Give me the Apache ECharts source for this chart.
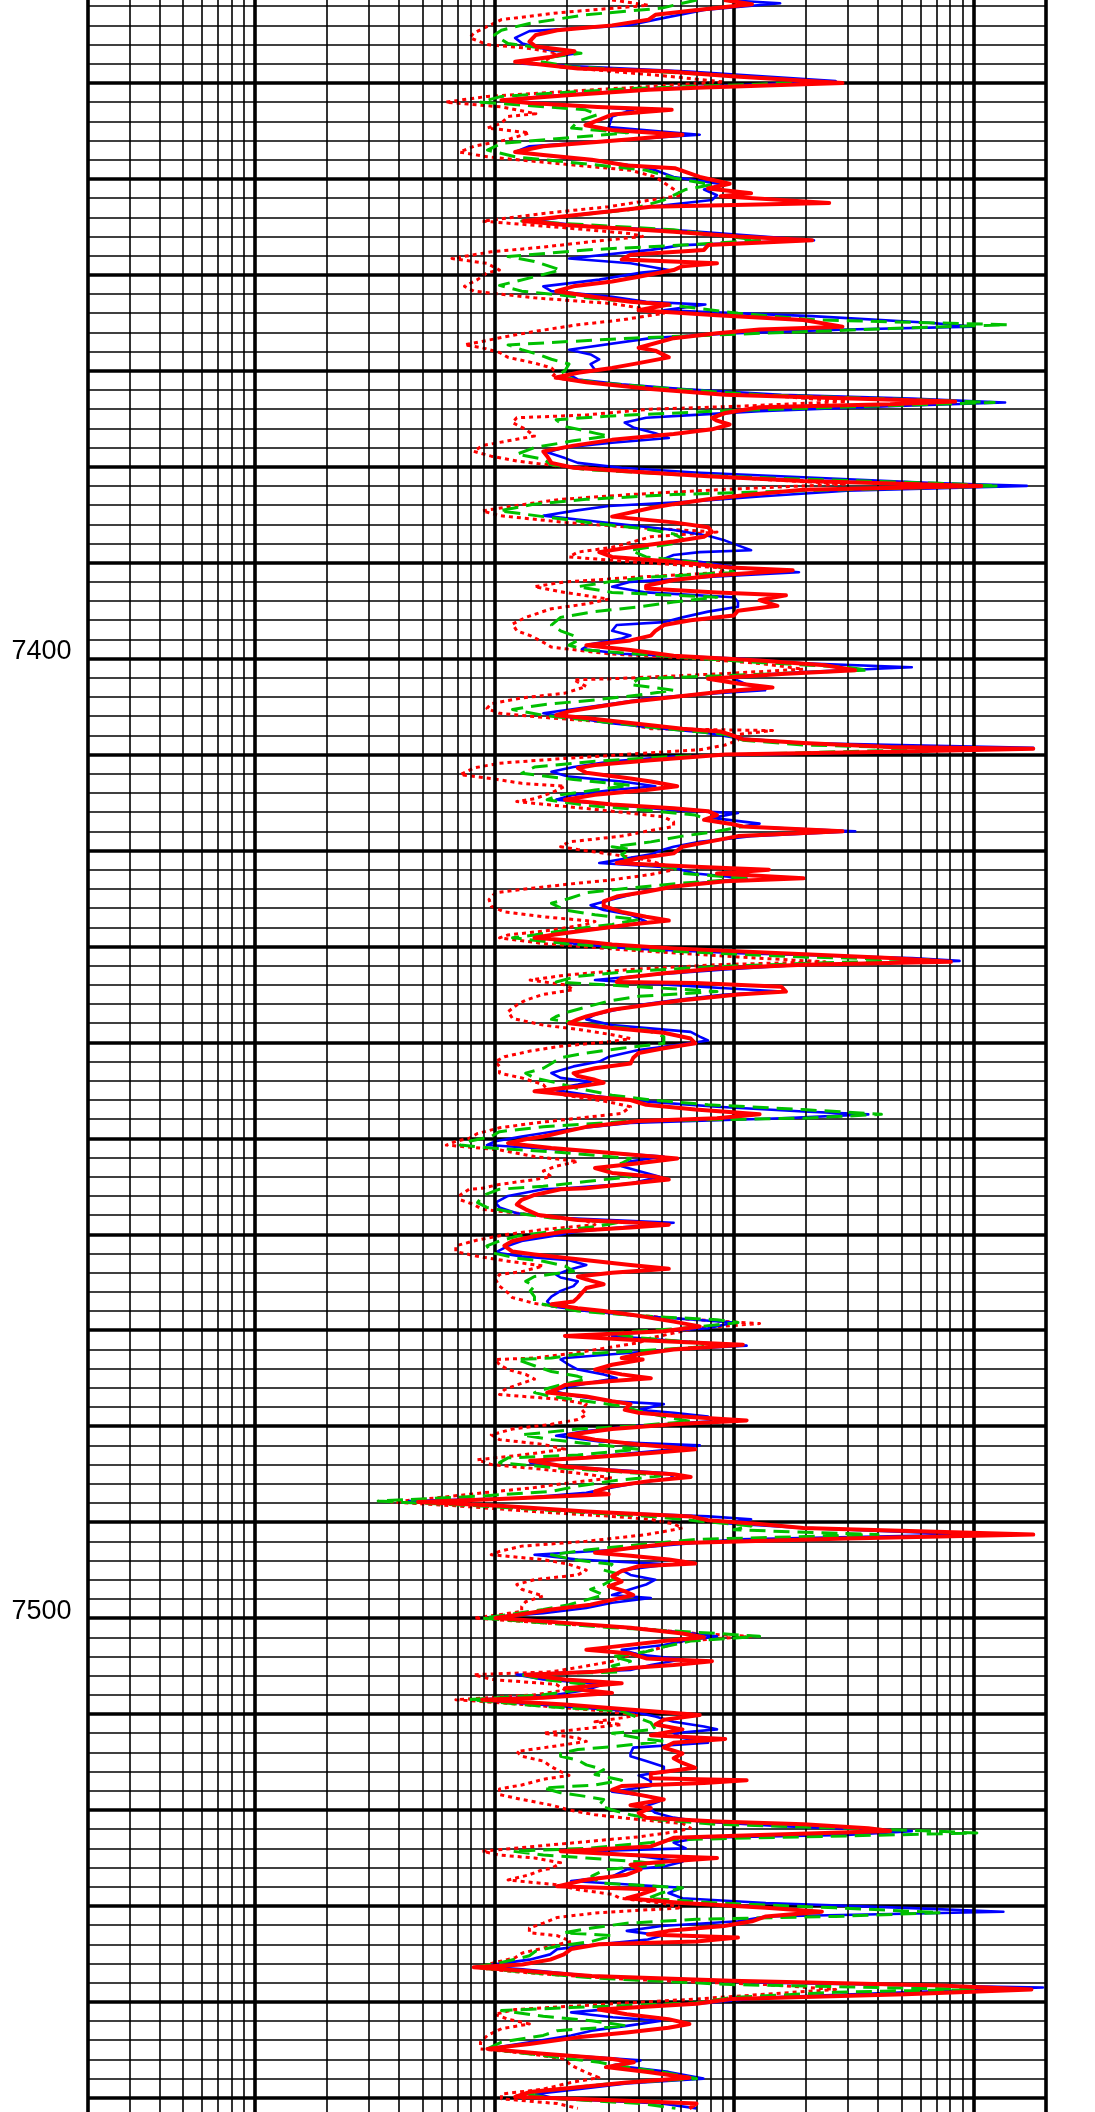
<!DOCTYPE html>
<html><head><meta charset="utf-8">
<script src="https://cdn.jsdelivr.net/npm/echarts@6/dist/echarts.min.js"></script>
<style>html,body{margin:0;padding:0;background:#fff;overflow:hidden;width:1095px;height:2112px}#chart{position:absolute;left:0;top:-13px;width:1095px;height:2130px}</style>
</head><body><div id="chart"></div>
<script>
// Depth tick labels (ft) and x grid lines (resistivity, ohm-m, log scale)
const depthLabels = [7400, 7500];
const decadeLines = [0.2, 1, 10, 100, 1000, 2000];
const minorLines = [0.3,0.4,0.5,0.6,0.7,0.8,0.9, 2,3,4,5,6,7,8,9, 20,30,40,50,60,70,80,90, 200,300,400,500,600,700,800,900];

// Each curve: [depth, resistivity]
const deepRes = [
[7331.35,91],[7331.8,119],[7332.4,70],[7332.9,47],[7333.4,44],[7334.0,31],[7334.5,18.3],[7335.0,14.9],[7335.7,14],[7336.2,14.9],[7336.7,21.6],[7337.3,17.1],[7337.8,12.2],[7338.1,16],[7338.5,22.3],[7338.8,53],[7339.3,98],[7340.0,284],[7340.5,70],[7340.7,44],[7341.3,19.5],[7341.8,10.7],[7342.1,14],[7342.5,27],[7342.8,55],[7343.3,31],[7343.9,27],[7344.4,24],[7344.9,31],[7345.4,61],[7345.9,36],[7346.6,16],[7347.2,12.2],[7347.5,16],[7348.0,25.5],[7348.6,36],[7348.9,57],
[7349.1,56],[7349.8,72],[7350.5,96],[7351.0,78],[7351.5,118],[7351.8,88],[7352.5,250],[7352.9,45],[7353.4,30],[7353.9,19.7],[7354.4,13.2],[7354.8,19.7],[7355.1,30],[7355.5,56],[7356.0,104],[7356.4,212],[7356.9,78],[7357.4,75],[7357.9,37],[7358.4,34],[7358.8,85],[7359.1,61],[7359.5,56],[7360.2,40],[7360.7,31],[7361.2,21.4],[7361.7,18.1],[7362.3,26.3],[7362.8,37],[7363.1,53.5],[7363.7,40],[7364.2,85],[7364.7,195],[7365.4,284],[7365.7,128],[7366.1,85],[7366.6,56],
[7367.6,40],[7367.9,47],[7368.6,53.5],[7369.2,40],[7369.7,31],[7370.2,22.3],[7370.7,18.1],[7371.2,24.2],[7371.9,45],[7372.5,92],[7372.8,240],[7373.2,839],[7373.5,449],[7373.8,128],[7374.4,92],[7374.9,81],[7375.2,85],[7375.6,96],[7376.1,81],[7376.6,56],[7377.2,31],[7377.8,21.4],[7378.4,16],[7378.9,16.6],[7379.6,17.3],[7380.1,21.4],[7380.5,37],[7381.0,78],[7381.5,195],[7382.0,1078],[7382.4,195],[7382.9,118],[7383.4,78],[7383.9,56],[7384.3,45],
[7385.2,31],[7385.8,56],[7386.3,78],[7386.8,81],[7387.3,75],[7387.8,56],[7388.4,37],[7388.9,27.4],[7389.4,31],[7389.9,56],[7390.5,96],[7390.8,176],[7391.3,85],[7391.8,56],[7392.4,43],[7392.7,43],[7393.1,85],[7393.4,165],[7393.9,128],[7394.5,152],[7395.0,104],[7395.5,100],[7396.0,66],[7396.5,51],[7397.1,47],[7397.6,45],[7398.1,37],[7398.6,24.2],[7399.1,37],[7399.7,56],[7400.2,128],[7400.7,240],[7401.2,321],[7401.6,158],[7402.1,78],
[7402.6,104],[7403.0,145],[7403.4,92],[7404.0,56],[7404.5,37],[7405.0,27.4],[7405.5,20.5],[7405.9,18.1],[7406.2,24.2],[7406.7,37],[7407.3,61],[7407.6,88],[7407.9,96],[7408.4,109],[7408.8,195],[7409.2,449],[7409.4,1778],[7409.7,449],[7410.0,92],[7410.6,45],[7411.1,26.3],[7411.4,22.3],[7411.9,24.2],[7412.5,37],[7412.8,45],[7413.3,58],[7413.7,43],[7414.2,26.3],[7414.7,19.7],[7415.2,31],[7415.6,56],[7415.9,78],[7416.3,85],[7416.8,75],[7417.2,96],[7417.5,109],[7418.0,284],[7418.5,104],[7419.1,78],[7419.6,61],
[7420.3,56],[7420.8,40],[7421.3,32.4],[7421.7,69],[7422.0,140],[7422.4,85],[7422.9,195],[7423.2,92],[7423.75,56],[7424.3,43],[7424.8,32.4],[7425.3,28.6],[7425.8,28.6],[7426.4,34],[7426.9,43],[7427.3,53.5],[7427.7,37],[7428.3,24.2],[7428.8,17.3],[7429.1,14.7],[7429.5,24.2],[7429.8,31],[7430.2,56],[7430.7,158],[7431.2,449],[7431.6,805],[7431.9,195],[7432.3,85],[7432.8,51],[7433.3,34],[7433.7,32.4],[7433.8,69],[7434.2,158],[7434.7,165],[7435.0,104],[7435.6,61],[7436.1,43],[7436.6,31],[7437.3,24.2],
[7437.6,22.3],[7438.0,20.5],[7438.5,31],[7439.0,51],[7439.6,66],[7440.1,69],[7440.6,51],[7441.1,40],[7441.6,38],[7442.2,37],[7442.7,26.3],[7443.2,21.4],[7443.5,22.3],[7443.9,26.3],[7444.2,28.6],[7444.6,22.3],[7445.1,14.7],[7445.5,21.4],[7446.0,37],[7446.5,43],[7447.0,69],[7447.5,128],[7447.9,85],[7448.2,40],[7448.8,24.2],[7449.3,19.7],[7449.8,16],[7450.1,13.5],[7450.5,11.4],[7451.0,17.3],[7451.5,30],[7452.1,58],[7452.6,40],[7453.1,26.3],[7453.6,31],[7454.0,47],[7454.3,53.5],[7454.7,37],[7455.2,24.2],
[7455.3,18.9],[7455.9,14.7],[7456.4,13],[7456.9,12.4],[7457.4,13.5],[7458.0,15.3],[7458.5,22.3],[7458.8,40],[7459.0,53.5],[7459.3,37],[7459.7,19.7],[7460.2,14.7],[7460.7,11.9],[7461.2,11],[7461.8,11.9],[7462.1,14.7],[7462.6,22.3],[7463.2,37],[7463.6,53.5],[7464.0,31],[7464.4,22.3],[7464.7,24.2],[7465.2,28.6],[7465.6,24.2],[7466.1,23.2],[7466.6,22.3],[7467.0,21.4],[7467.3,17.3],[7467.7,22.3],[7468.0,28.6],[7468.5,40],[7469.1,56],[7469.6,72],[7470.1,51],[7470.6,19.7],[7471.0,37],[7471.5,109],[7472.0,56],[7472.5,40],[7472.9,34],
[7473.05,41.6],[7473.6,31],[7474.1,26.3],[7474.6,34],[7475.0,45],[7475.3,31],[7475.7,19.7],[7476.2,18.1],[7476.5,16.6],[7476.9,24.2],[7477.4,31],[7477.7,37],[7478.3,35],[7478.6,40],[7479.0,61],[7479.4,113],[7479.8,56],[7480.3,31],[7480.9,20.5],[7481.4,26.3],[7481.9,40],[7482.4,69],[7482.8,45],[7483.3,24.2],[7483.6,14.1],[7484.2,19.7],[7484.7,34],[7485.0,56],[7485.3,66],[7485.7,45],[7486.25,31],[7486.8,26.3],[7487.1,30],[7487.6,10.5],[7487.9,4.8],[7488.3,10.5],[7488.9,24.2],[7489.4,66],[7489.8,78],[7490.2,128],[7490.6,195],
[7491.3,1778],[7491.7,296],[7492.2,56],[7492.7,37],[7493.2,26.3],[7493.5,37],[7493.9,53.5],[7494.3,69],[7494.6,40],[7495.1,34],[7495.65,31],[7496.2,34],[7496.7,30],[7497.2,35],[7497.6,38],[7498.1,31],[7498.6,25.2],[7499.1,17.3],[7499.6,13],[7500.0,10.1],[7500.5,19.7],[7501.0,37],[7501.6,61],[7502.0,75],[7502.4,51],[7503.0,31],[7503.3,24.2],[7503.7,37],[7504.2,43],[7504.5,81],[7504.9,56],[7505.2,37],[7505.6,26.3],[7505.9,13.5],[7506.4,19.7],[7506.8,34],[7507.3,19.7],[7507.8,31],[7508.3,16],
[7508.5,8.9],[7509.0,19.7],[7509.6,40],[7510.1,72],[7510.6,51],[7511.1,47],[7511.6,61],[7512.2,45],[7512.6,92],[7513.0,56],[7513.5,51],[7514.1,61],[7514.6,56],[7515.1,61],[7515.6,69],[7516.2,45],[7516.7,45],[7516.9,113],[7517.2,75],[7517.5,34],[7517.9,31],[7518.4,40],[7518.9,51],[7519.5,37],[7519.8,45],[7520.3,40],[7520.8,43],[7521.2,85],[7521.5,195],[7521.9,364],[7522.2,449],[7522.6,128],[7522.9,56],[7523.3,51],[7523.8,45],[7524.3,18.9],[7524.7,37],[7525.0,85],[7525.4,51],[7525.7,37],[7526.1,40],
[7526.2,40.8],[7526.75,35.7],[7527.3,23.9],[7527.96,18.3],[7528.3,46.7],[7528.8,40.8],[7529.2,35.7],[7529.7,61],[7530.2,136],[7530.6,233],[7531.1,136],[7531.6,119],[7532.1,91],[7532.6,53.3],[7532.97,43.7],[7533.3,104],[7533.7,69.8],[7534.0,27.3],[7534.5,20.9],[7535.05,19.5],[7535.6,17.1],[7536.1,13.1],[7536.4,8.2],[7536.8,14],[7537.3,25.5],[7537.8,97.6],[7538.3,730],[7538.7,1747],[7539.2,520],[7539.7,97.6],[7540.2,69.8],[7540.8,27.3],[7541.3,35.7],[7541.8,53.3],[7542.3,65.2],[7542.7,53.3],[7543.2,35.7],[7543.7,22.3],[7544.4,14],[7544.9,9.35],[7545.4,16],[7545.95,31.2],[7546.3,38.2],[7546.8,29.2],[7547.3,43.7],[7547.9,65.2],[7548.4,35.7],[7548.9,22.3],[7549.4,14],[7549.9,12.2],[7550.3,35.7],[7550.6,69.8],[7551.1,65.2]
];

const medRes = [
[7331.35,91],[7331.7,156],[7332.4,75],[7333.4,47],[7334.0,36],[7334.6,14],[7335.3,12.2],[7335.9,13.1],[7336.6,17.1],[7336.9,22.3],[7337.6,14],[7338.0,13.1],[7338.8,65],[7339.8,266],[7340.6,47],[7341.4,16],[7341.8,10.7],[7342.5,27],[7342.8,38],[7343.5,31],[7344.6,30],[7345.4,72],[7345.9,36],[7346.6,14],[7347.2,12.2],[7348.0,24],[7348.7,41],
[7349.1,47],[7349.8,56],[7350.6,92],[7351.1,75],[7351.7,85],[7352.2,81],[7352.9,45],[7353.6,24.2],[7354.4,14.7],[7355.0,26.3],[7355.4,63],[7356.4,216],[7356.9,61],[7357.4,45],[7358.3,20.5],[7358.8,37],[7359.5,53.5],[7359.8,40],[7360.5,27.4],[7361.2,16],[7361.7,17.3],[7362.3,31],[7362.8,43],[7363.1,76],[7363.7,51],[7364.3,212],[7365.0,653],[7365.4,1000],[7365.7,296],[7366.1,96],[7366.6,45],
[7367.8,20.5],[7368.3,25.2],[7368.8,27.4],[7369.3,25.2],[7369.9,26.3],[7370.4,20.5],[7370.9,22.3],[7371.4,34],[7371.9,61],[7372.5,158],[7372.9,553],[7373.3,1356],[7373.7,449],[7374.2,128],[7374.6,69],[7374.9,43],[7375.4,35],[7375.9,38],[7376.5,47],[7377.0,53.5],[7377.5,31],[7378.0,19.7],[7378.5,16.6],[7379.1,19.7],[7379.6,22.3],[7380.1,34],[7380.6,69],[7381.1,195],[7381.7,681],[7382.0,1670],[7382.5,296],[7383.1,128],[7383.6,69],[7384.1,30],
[7384.6,21.4],[7385.1,16],[7385.6,24.2],[7386.1,37],[7386.6,56],[7387.2,78],[7387.7,92],[7388.2,104],[7388.7,118],[7388.9,72],[7389.2,56],[7389.6,51],[7389.9,72],[7390.5,104],[7391.0,187],[7391.5,78],[7392.0,37],[7392.5,31],[7393.1,43],[7393.6,100],[7394.1,104],[7394.6,104],[7395.1,78],[7395.7,61],[7396.2,51],[7396.5,32.4],[7397.1,31],[7397.6,37],[7397.9,34],[7398.5,25.2],[7399.0,23.2],[7399.5,34],[7400.0,104],[7400.5,195],[7400.9,553],[7401.4,195],[7401.9,96],
[7402.7,113],[7403.3,135],[7403.6,85],[7404.1,45],[7404.7,31],[7405.2,22.3],[7405.7,16],[7406.2,22.3],[7406.7,30],[7407.3,51],[7407.7,75],[7408.3,104],[7408.8,195],[7409.3,1778],[7409.7,449],[7410.2,56],[7410.7,31],[7411.3,21.4],[7411.8,17.3],[7412.3,20.5],[7412.8,34],[7413.3,47],[7413.7,31],[7414.2,21.4],[7414.7,18.1],[7415.2,30],[7415.8,56],[7416.1,104],[7416.6,81],[7417.2,128],[7417.5,109],[7418.0,321],[7418.5,118],[7419.1,72],[7419.6,56],
[7419.9,51],[7420.4,45],[7421.3,27.4],[7421.8,56],[7422.4,69],[7422.9,113],[7423.4,72],[7423.9,51],[7424.4,40],[7425.1,31],[7425.7,25.2],[7426.2,28.6],[7426.7,37],[7427.4,43],[7427.9,34],[7428.6,18.9],[7429.1,16],[7429.7,21.4],[7430.2,37],[7430.7,104],[7431.2,553],[7431.5,875],[7431.9,195],[7432.4,92],[7433.0,43],[7433.5,26.3],[7433.8,40],[7434.35,92],[7434.7,158],[7435.0,92],[7435.6,56],[7436.1,40],[7436.6,32.4],[7437.1,26.3],
[7437.6,24.2],[7438.2,31],[7438.9,66],[7439.4,72],[7439.8,78],[7440.2,61],[7440.8,40],[7441.5,30],[7442.0,27.4],[7442.5,21.4],[7443.2,17.3],[7443.7,18.9],[7444.1,25.2],[7444.4,22.3],[7444.9,17.3],[7445.6,26.3],[7446.2,45],[7446.7,85],[7447.2,195],[7447.5,364],[7447.9,158],[7448.4,37],[7449.1,19.7],[7449.8,13],[7450.3,10.1],[7450.7,9.3],[7451.0,14.7],[7451.5,30],[7451.9,51],[7452.4,37],[7452.9,34],[7453.4,40],[7454.0,49],[7454.7,37],[7455.2,19.7],
[7455.3,16],[7456.0,11.4],[7456.7,10.1],[7457.2,10.5],[7457.8,12.4],[7458.3,19.7],[7458.8,56],[7459.2,37],[7459.7,22.3],[7460.2,17.3],[7460.7,13],[7461.2,11.4],[7461.9,10.1],[7462.3,13],[7462.7,20.5],[7463.2,24.2],[7463.7,20.5],[7464.2,18.1],[7464.5,18.9],[7464.9,22.3],[7465.4,21.4],[7465.9,18.9],[7466.5,17.3],[7467.0,16.6],[7467.5,17.3],[7468.0,24.2],[7468.5,40],[7468.9,69],[7469.2,100],[7469.8,78],[7470.3,37],[7470.6,31],[7471.1,56],[7471.6,113],[7472.0,56],[7472.5,31],[7472.9,19.7],
[7473.05,18.9],[7473.6,20.5],[7474.1,22.3],[7474.6,28.6],[7475.0,32.4],[7475.3,27.4],[7475.8,21.4],[7476.3,17.3],[7476.9,22.3],[7477.4,31],[7477.7,51],[7478.3,40],[7478.6,56],[7479.0,78],[7479.5,81],[7480.0,37],[7480.5,24.2],[7481.0,18.1],[7481.6,27.4],[7482.0,72],[7482.4,56],[7483.0,31],[7483.5,18.1],[7483.8,14.1],[7484.3,22.3],[7484.9,53.5],[7485.4,56],[7485.9,40],[7486.4,31],[7486.95,24.2],[7487.5,13],[7487.8,4.4],[7488.3,10.5],[7488.9,22.3],[7489.4,78],[7489.7,118],[7490.1,92],[7490.6,195],
[7491.3,1034],[7491.8,104],[7492.35,56],[7492.9,31],[7493.4,14.7],[7493.9,22.3],[7494.4,53.5],[7495.0,34],[7495.5,37],[7496.0,47],[7496.5,43],[7497.0,37],[7497.6,31],[7497.9,45],[7498.4,31],[7498.95,24.2],[7499.5,16],[7499.9,9.7],[7500.3,16],[7500.9,31],[7501.4,56],[7501.9,85],[7502.4,61],[7502.8,51],[7503.3,34],[7503.8,40],[7504.3,61],[7504.9,45],[7505.4,37],[7505.9,12.4],[7506.4,16],[7506.9,28.6],[7507.5,24.2],[7508.2,16],
[7508.5,8.2],[7509.2,19.7],[7509.7,37],[7510.25,47],[7510.8,56],[7511.3,75],[7511.6,85],[7512.0,56],[7512.5,61],[7513.0,78],[7513.5,38],[7514.1,37],[7514.4,37],[7514.9,43],[7515.5,51],[7516.0,51],[7516.4,40],[7517.0,45],[7517.5,45],[7518.1,31],[7518.6,45],[7519.1,49],[7519.6,43],[7520.3,47],[7520.8,56],[7521.2,72],[7521.7,158],[7522.2,553],[7522.6,296],[7522.9,72],[7523.4,56],[7524.0,63],[7524.3,24.2],[7524.8,40],[7525.4,61],[7525.9,51],
[7526.2,35.7],[7526.9,31.2],[7527.4,20.9],[7528.1,61],[7528.65,53.3],[7529.2,61],[7529.7,136],[7530.2,520],[7530.6,1334],[7531.1,136],[7531.6,104],[7532.1,49.9],[7532.6,35.7],[7533.1,49.9],[7533.5,43.7],[7534.0,27.3],[7534.5,18.3],[7535.05,17.1],[7535.6,14],[7536.3,8.75],[7536.6,13.1],[7537.3,25.5],[7538.0,136],[7538.5,1950],[7539.0,520],[7539.55,136],[7540.1,79.8],[7540.6,35.7],[7541.1,20.9],[7541.6,31.2],[7541.97,49.9],[7542.5,35.7],[7543.0,25.5],[7543.5,20.9],[7544.2,14],[7544.9,9.35],[7545.4,16],[7546.1,40.8],[7546.6,31.2],[7547.3,53.3],[7548.0,74.6],[7548.5,35.7],[7549.1,22.3],[7549.6,14.9],[7550.1,18.3],[7550.6,49.9],[7551.1,69.8]
];

const shallowRes = [
[7331.35,70],[7332.2,50],[7332.9,24],[7333.8,14],[7334.5,10.7],[7335.0,10],[7335.9,11.4],[7336.9,23],[7337.6,14],[7338.3,21],[7339.3,104],[7339.9,233],[7340.6,36],[7341.4,10.7],[7342.0,8.75],[7342.8,24],[7343.3,27],[7344.0,22.3],[7344.7,21],[7345.2,36],[7346.3,10.7],[7347.0,9.35],[7347.7,12.2],[7348.5,25.5],
[7349.1,43],[7349.9,56],[7350.6,81],[7351.1,63],[7352.2,51],[7353.2,37],[7354.4,13],[7355.3,56],[7356.4,128],[7356.9,61],[7357.4,24.2],[7358.1,11.4],[7358.6,14.7],[7359.5,18.9],[7360.2,14.7],[7361.1,10.5],[7361.7,13],[7362.3,22.3],[7362.8,37],[7363.3,61],[7364.0,104],[7364.7,221],[7365.2,1384],[7365.6,449],[7366.1,128],[7366.6,37],
[7367.3,11.4],[7367.8,13],[7368.3,15.3],[7368.8,17.3],[7369.3,20.5],[7370.0,19.7],[7370.6,18.1],[7371.2,26.3],[7371.9,56],[7372.5,128],[7373.0,553],[7373.3,1222],[7373.7,364],[7374.2,85],[7374.7,31],[7375.1,18.1],[7375.8,19.7],[7376.5,26.3],[7376.8,30],[7377.3,21.4],[7378.0,14.7],[7378.7,12.4],[7379.2,16],[7379.8,17.3],[7380.3,24.2],[7380.8,56],[7381.3,195],[7381.7,681],[7382.0,1274],[7382.5,195],[7382.9,56],[7383.4,24.2],[7383.9,14.7],
[7384.6,10.5],[7385.2,16],[7385.9,26.3],[7386.5,43],[7387.0,56],[7387.5,61],[7388.0,56],[7388.7,37],[7389.4,43],[7390.1,78],[7391.0,100],[7391.5,45],[7392.0,30],[7392.5,22.3],[7393.1,31],[7393.6,85],[7394.1,56],[7394.6,40],[7395.1,26.3],[7395.7,18.9],[7396.5,17.3],[7397.1,18.9],[7397.6,21.4],[7398.1,22.3],[7398.6,20.5],[7399.1,24.2],[7399.8,56],[7400.4,128],[7400.9,296],[7401.2,364],[7401.8,85],[7402.1,40],
[7402.7,37],[7403.3,56],[7403.8,40],[7404.3,26.3],[7404.8,16],[7405.3,11.9],[7405.9,16],[7406.4,24.2],[7406.9,37],[7407.4,56],[7407.9,92],[7408.5,109],[7409.0,195],[7409.4,839],[7409.8,195],[7410.2,56],[7410.7,26.3],[7411.3,14.7],[7411.95,13],[7412.6,21.4],[7413.2,37],[7413.7,26.3],[7414.2,18.9],[7414.7,16.6],[7415.3,24.2],[7415.8,43],[7416.3,69],[7416.8,78],[7417.5,109],[7418.0,85],[7418.5,61],[7419.1,45],[7419.6,31],
[7419.9,37],[7420.4,34],[7421.3,37],[7421.8,56],[7422.4,61],[7422.9,118],[7423.4,61],[7423.9,37],[7424.4,24.2],[7425.0,20.5],[7425.5,17.3],[7426.2,19.7],[7426.7,26.3],[7427.2,40],[7427.7,31],[7428.3,19.7],[7428.8,14.7],[7429.1,11.9],[7429.7,19.7],[7430.4,45],[7431.1,195],[7431.4,681],[7431.7,240],[7432.1,85],[7432.6,37],[7433.1,22.3],[7433.7,18.1],[7434.2,40],[7434.7,85],[7435.2,40],[7435.7,30],[7436.3,24.2],[7436.8,20.5],[7437.3,18.1],
[7437.6,17.3],[7438.2,26.3],[7438.7,43],[7439.4,51],[7440.1,51],[7440.6,34],[7441.1,24.2],[7441.6,18.9],[7442.2,17.3],[7442.7,16],[7443.2,13.5],[7443.7,14.7],[7444.2,18.1],[7444.8,22.3],[7445.5,31],[7446.0,45],[7446.5,78],[7447.0,195],[7447.5,413],[7447.9,195],[7448.2,37],[7448.8,16],[7449.3,10.5],[7449.8,9.7],[7450.3,7.85],[7450.7,7.2],[7451.0,9.7],[7451.5,19.7],[7452.1,37],[7452.6,34],[7453.1,28.6],[7453.6,31],[7454.0,37],[7454.5,24.2],[7455.0,16],
[7455.3,10.5],[7456.0,8.9],[7456.7,8.5],[7457.2,9.3],[7457.8,12.4],[7458.3,17.3],[7458.8,32.4],[7459.2,26.3],[7459.7,17.3],[7460.2,12.4],[7460.7,10.5],[7461.2,9.3],[7461.9,9.7],[7462.5,12.4],[7462.8,16],[7463.3,19.7],[7463.85,21.4],[7464.4,14.7],[7464.9,13.5],[7465.4,14.7],[7465.9,14.1],[7466.5,14.7],[7467.0,14.7],[7467.3,16],[7468.0,22.3],[7468.5,40],[7468.9,85],[7469.2,104],[7469.8,61],[7470.3,30],[7470.8,40],[7471.3,72],[7471.7,78],[7472.2,37],[7472.5,22.3],[7472.9,17.3],
[7473.05,12.4],[7473.7,14.7],[7474.3,17.3],[7474.8,22.3],[7475.1,24.2],[7475.7,18.9],[7476.2,16],[7476.5,14.7],[7476.9,17.3],[7477.4,24.2],[7477.9,34],[7478.4,40],[7479.0,51],[7479.5,66],[7480.0,37],[7480.3,22.3],[7480.9,13],[7481.4,17.3],[7481.9,26.3],[7482.4,40],[7483.0,22.3],[7483.3,11.4],[7483.8,10.5],[7484.3,17.3],[7484.9,40],[7485.2,49],[7485.7,31],[7486.25,22.3],[7486.8,17.3],[7487.3,8.5],[7487.8,3.27],[7488.3,8.5],[7488.9,20.5],[7489.4,45],[7489.9,72],[7490.4,118],
[7490.8,100],[7491.3,400],[7491.8,69],[7492.35,40],[7492.9,24.2],[7493.4,17.3],[7493.9,21.4],[7494.4,31],[7495.0,28.6],[7495.5,34],[7496.0,31],[7496.5,28.6],[7497.0,25.2],[7497.6,28.6],[7498.1,24.2],[7498.6,20.5],[7499.1,16],[7499.65,11.4],[7500.0,8.9],[7500.5,16],[7501.0,31],[7501.6,85],[7501.9,128],[7502.4,66],[7503.0,51],[7503.5,43],[7504.0,31],[7504.5,37],[7505.0,31],[7505.6,34],[7505.9,13],[7506.4,16],[7506.9,24.2],[7507.5,22.3],[7508.0,16],
[7508.5,7.85],[7509.2,16],[7509.7,34],[7510.4,40],[7510.9,45],[7511.6,47],[7512.0,31],[7512.5,40],[7512.85,51],[7513.4,31],[7513.7,22.3],[7514.1,18.9],[7514.4,18.9],[7514.8,22.3],[7515.3,24.2],[7515.8,28.6],[7516.3,26.3],[7516.9,34],[7517.4,26.3],[7517.7,16],[7518.2,18.9],[7518.6,24.2],[7518.9,28.6],[7519.5,27.4],[7520.0,31],[7520.5,37],[7521.0,47],[7521.5,85],[7521.9,296],[7522.2,681],[7522.4,1034],[7522.8,195],[7523.1,56],[7523.4,45],[7524.0,24.2],[7524.3,11.9],[7524.7,16],[7525.0,24.2],[7525.4,40],[7525.7,51],
[7526.2,29.2],[7526.9,25.5],[7527.6,27.3],[7528.1,61],[7528.65,49.9],[7529.2,43.7],[7529.7,85.3],[7530.2,266],[7530.7,730],[7531.1,266],[7531.4,69.8],[7531.8,35.7],[7532.3,25.5],[7532.8,19.5],[7533.1,31.2],[7533.7,25.5],[7534.2,18.3],[7534.7,14.9],[7535.2,14],[7535.9,10.7],[7536.4,8.2],[7536.95,14],[7537.5,25.5],[7538.2,97.6],[7538.7,1021],[7539.0,266],[7539.55,97.6],[7540.1,69.8],[7540.6,20.9],[7540.9,10.7],[7541.5,16],[7541.97,25.5],[7542.5,35.7],[7543.0,18.3],[7543.5,16],[7544.2,10.7],[7544.9,9.35],[7545.6,16],[7546.3,27.3],[7546.8,35.7],[7547.3,49.9],[7548.0,69.8],[7548.5,31.2],[7549.1,18.3],[7549.6,13.1],[7550.1,18.3],[7550.6,40.8],[7551.1,57]
];

const microRes = [
[7331.35,31],[7331.9,44],[7332.7,18.3],[7333.4,10.7],[7334.1,9.35],[7334.8,8.2],[7335.3,7.9],[7336.0,9.35],[7336.4,14],[7336.9,18.3],[7337.8,16],[7338.3,18.3],[7339.3,53],[7339.9,91],[7340.6,31],[7341.4,9.35],[7342.0,6.25],[7342.5,10.7],[7343.2,14.9],[7343.5,11.4],[7344.2,10.7],[7344.7,9.35],[7345.2,14],[7345.9,11.4],[7346.6,8.2],[7347.2,7.15],[7347.7,9.35],[7348.4,18.3],
[7349.1,37],[7349.8,47],[7351.7,61],[7352.2,45],[7352.9,30],[7353.6,16],[7354.4,8.9],[7355.1,19.7],[7355.7,37],[7356.0,41.6],[7356.5,26.3],[7357.1,16],[7357.6,9.7],[7358.3,6.65],[7358.8,9.3],[7359.5,10.5],[7359.8,9.3],[7360.5,8.5],[7361.2,7.5],[7361.7,8.2],[7362.4,14.7],[7363.0,31],[7363.5,41.6],[7364.0,51],[7364.7,34],[7365.2,22.3],[7365.9,14.7],[7366.4,11.4],
[7367.3,7.5],[7367.6,8.9],[7368.1,10.5],[7368.6,11.4],[7369.2,14.7],[7369.7,17.3],[7370.2,18.1],[7370.7,17.3],[7371.4,29.8],[7371.9,56],[7372.5,128],[7373.2,296],[7373.7,104],[7374.0,45],[7374.6,24.2],[7374.9,12.4],[7375.4,11.9],[7376.1,13.5],[7376.8,14.7],[7377.3,11.4],[7377.8,8.9],[7378.4,8.2],[7378.9,9.7],[7379.4,12.4],[7379.9,18.1],[7380.6,45],[7381.3,128],[7381.8,296],[7382.4,85],[7382.9,37],[7383.4,18.9],[7383.9,13.5],
[7384.6,8.9],[7385.1,10.5],[7385.8,19.7],[7386.3,37],[7386.8,85],[7387.3,45],[7387.9,37],[7388.4,31],[7388.9,22.3],[7389.4,20.5],[7389.9,37],[7390.5,85],[7391.0,92],[7391.5,40],[7392.0,19.7],[7392.5,14.7],[7393.1,19.7],[7393.8,30],[7394.3,24.2],[7394.8,17.3],[7395.7,13.5],[7396.4,11.9],[7397.1,12.4],[7397.6,14.1],[7398.3,16],[7398.8,17.3],[7399.5,30],[7400.0,69],[7400.5,128],[7401.1,195],[7401.6,85],[7402.1,31],
[7402.2,21.4],[7402.9,24.2],[7403.6,19.7],[7404.1,13],[7404.7,9.7],[7405.2,9.3],[7405.7,10.5],[7406.2,17.3],[7406.7,34],[7407.3,45],[7407.5,145],[7407.9,104],[7408.5,104],[7409.0,92],[7409.5,72],[7409.9,40],[7410.4,19.7],[7410.9,10.5],[7411.4,8.2],[7412.1,7.2],[7412.5,9.7],[7413.0,13],[7413.3,19.7],[7414.0,17.3],[7414.6,14.7],[7414.9,12.4],[7415.4,19.7],[7415.9,31],[7416.5,51],[7417.0,56],[7417.5,56],[7418.0,43],[7418.5,34],[7419.1,20.5],[7419.6,18.9],
[7419.9,22.3],[7420.4,31],[7420.97,43],[7421.5,51],[7422.0,56],[7422.5,45],[7423.1,30],[7423.4,22.3],[7423.9,14.7],[7424.4,10.1],[7425.1,9.5],[7425.8,9.7],[7426.4,11],[7426.9,16],[7427.4,26.3],[7427.7,24.2],[7428.3,17.3],[7428.8,11.4],[7429.1,10.5],[7429.7,16],[7430.4,37],[7431.1,104],[7431.6,240],[7431.9,85],[7432.4,37],[7433.0,19.7],[7433.5,14.1],[7434.0,19.7],[7434.5,21.4],[7435.0,16],[7435.6,13.5],[7436.1,12.4],[7436.8,11.4],[7437.5,11.9],
[7437.6,11.9],[7438.2,16],[7438.7,23.2],[7439.2,31],[7439.6,37],[7439.9,31],[7440.4,18.9],[7440.9,14.1],[7441.5,11],[7442.0,10.1],[7442.5,10.5],[7443.2,10.5],[7443.7,13],[7444.4,16],[7444.9,16.6],[7445.5,19.7],[7446.2,30],[7446.7,37],[7447.4,34],[7447.9,22.3],[7448.4,14.7],[7448.9,10.5],[7449.5,8.5],[7450.0,7.85],[7450.3,6.9],[7450.7,6.3],[7451.2,10.5],[7451.9,14.7],[7452.4,22.3],[7452.9,18.1],[7453.4,16],[7454.0,17.3],[7454.3,14.7],[7454.8,10.5],[7455.2,8.9],
[7455.3,7.85],[7455.9,7.2],[7456.4,7.2],[7456.9,8.2],[7457.4,8.9],[7458.1,16],[7458.6,24.2],[7459.0,26.3],[7459.5,16],[7460.0,11.4],[7460.6,8.5],[7461.2,6.9],[7461.8,6.9],[7462.3,8.5],[7462.8,11.4],[7463.3,16],[7463.9,13],[7464.2,10.5],[7464.7,10.1],[7465.4,10.5],[7466.1,11.4],[7466.6,11.9],[7467.2,14.7],[7467.8,22.3],[7468.4,37],[7468.9,69],[7469.3,128],[7469.8,69],[7470.3,56],[7470.8,45],[7471.3,40],[7471.8,30],[7472.4,21.4],[7472.9,14.7],
[7473.05,10.1],[7473.6,10.5],[7474.1,11.4],[7474.6,13.5],[7475.1,14.7],[7475.7,12.4],[7476.2,11],[7476.7,10.5],[7477.2,18.9],[7477.7,24.2],[7478.3,23.2],[7478.8,24.2],[7479.3,22.3],[7479.8,17.3],[7480.3,11.9],[7480.9,9.7],[7481.4,10.5],[7481.9,16],[7482.4,19.7],[7483.0,13],[7483.5,8.5],[7484.0,9.7],[7484.5,16],[7485.0,24.2],[7485.4,31],[7485.9,20.5],[7486.4,14.7],[7486.95,8.9],[7487.5,5.6],[7487.9,3.7],[7488.3,6.9],[7488.9,14.7],[7489.4,31],[7489.7,45],[7490.2,56],[7490.6,61],
[7490.8,56],[7491.3,43],[7492.0,24.2],[7492.5,13],[7493.05,10.5],[7493.4,9.7],[7493.9,16],[7494.4,20.5],[7495.0,24.2],[7495.5,22.3],[7496.0,14.7],[7496.5,12.4],[7497.0,13],[7497.7,16],[7498.3,13.5],[7498.8,13],[7499.3,13],[7499.65,10.5],[7500.0,8.2],[7500.5,16],[7501.0,37],[7501.6,69],[7501.9,118],[7502.4,61],[7503.0,51],[7503.5,43],[7504.0,35],[7504.5,31],[7505.0,24.2],[7505.6,17.3],[7505.9,8.2],[7506.4,9.7],[7506.9,18.1],[7507.5,19.7],[7508.0,14.7],
[7508.5,6.9],[7509.0,13],[7509.6,26.3],[7510.1,40],[7510.4,34],[7510.8,26.3],[7511.1,34],[7511.5,24.2],[7512.0,16],[7512.5,22.3],[7512.85,24.2],[7513.4,17.3],[7513.9,12.4],[7514.4,13],[7514.9,16],[7515.5,17.3],[7516.0,18.9],[7516.4,20.5],[7516.8,16],[7517.4,13],[7517.8,10.5],[7518.4,10.5],[7518.9,13],[7519.5,17.3],[7520.0,20.5],[7520.5,26.3],[7521.0,40],[7521.4,61],[7521.9,66],[7522.3,56],[7522.8,40],[7523.3,24.2],[7523.8,14.7],[7524.3,8.9],[7524.7,10.5],[7525.0,14.7],[7525.5,18.9],[7526.1,17.3],
[7526.2,16],[7526.75,14],[7527.3,11.4],[7527.8,18.3],[7528.3,22.3],[7528.8,31.2],[7529.2,33.4],[7529.7,49.9],[7530.2,61],[7530.7,27.3],[7531.2,18.3],[7531.8,16],[7532.3,14],[7532.8,14],[7533.1,18.3],[7533.7,20.9],[7534.4,16],[7534.9,13.1],[7535.4,12.2],[7536.1,9.35],[7536.6,9.35],[7537.1,16],[7537.65,35.7],[7538.2,136],[7538.7,266],[7539.2,136],[7539.7,69.8],[7540.2,31.2],[7540.8,12.2],[7541.3,10],[7541.8,11.4],[7542.3,14],[7542.8,10.7],[7543.5,9.35],[7544.2,8.75],[7544.9,8.75],[7545.4,14],[7545.95,19.5],[7546.6,20.9],[7547.3,23.9],[7547.9,27.3],[7548.4,20.9],[7549.1,16],[7549.6,10.7],[7550.1,10.7],[7550.6,18.3],[7551.1,22.3]
];

const chart = echarts.init(document.getElementById('chart'), null, {renderer: 'canvas'});
const toXY = arr => arr.map(p => [p[1], p[0]]);
const curve = (name, arr, color, width, type, z) => ({
  name, type: 'line', data: toXY(arr), xAxisIndex: 0, yAxisIndex: 0,
  showSymbol: false, symbol: 'none', clip: true, z, animation: false,
  lineStyle: {color, width, type, cap: 'butt', join: 'round'}
});
const gridLines = (vals, width, z) => ({
  type: 'line', data: [], xAxisIndex: 0, yAxisIndex: 0, z, silent: true, animation: false,
  markLine: {
    silent: true, symbol: ['none', 'none'], label: {show: false}, animation: false,
    lineStyle: {color: '#000', type: 'solid', width},
    emphasis: {disabled: true},
    data: vals.map(v => ({xAxis: v}))
  }
});
chart.setOption({
  animation: false,
  backgroundColor: '#ffffff',
  grid: {left: 87.5, width: 958, top: 0, bottom: 0},
  xAxis: {type: 'log', logBase: 10, min: 0.2, max: 2000,
    axisLine: {show: false}, axisTick: {show: false}, axisLabel: {show: false}, splitLine: {show: false}},
  yAxis: [
    {type: 'value', inverse: true, min: 7330, max: 7552, interval: 2, position: 'left',
      axisLine: {show: false}, axisTick: {show: false}, axisLabel: {show: false},
      splitLine: {show: true, lineStyle: {color: '#000', width: 1.6}}},
    {type: 'value', inverse: true, min: 7330, max: 7552, interval: 10, position: 'left',
      axisLine: {show: false}, axisTick: {show: false},
      axisLabel: {show: true, margin: 16, color: '#000', fontSize: 27,
        fontFamily: 'Liberation Sans, Arial, Helvetica, sans-serif',
        verticalAlign: 'bottom', lineHeight: 14,
        formatter: v => depthLabels.indexOf(v) >= 0 ? String(v) : ''},
      splitLine: {show: true, lineStyle: {color: '#000', width: 3.6}}}
  ],
  series: [
    gridLines(minorLines, 1.6, 1),
    gridLines(decadeLines, 3.6, 1),
    curve('Micro', microRes, '#ff0000', 3, [4, 4], 3),
    curve('Medium', medRes, '#0000ff', 2.6, 'solid', 4),
    curve('Shallow', shallowRes, '#00c000', 3, [16, 8], 5),
    curve('Deep', deepRes, '#ff0000', 4, 'solid', 6)
  ]
});
</script></body></html>
